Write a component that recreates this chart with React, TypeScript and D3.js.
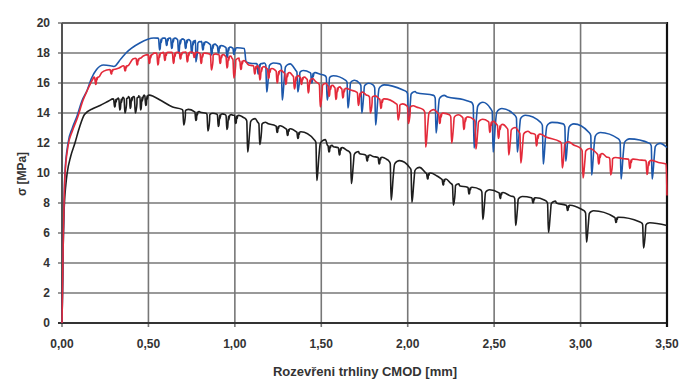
import React from "react";
import * as d3 from "d3";

// x ticks (CMOD mm) and y ticks (MPa)
const xTicks = [0, 0.5, 1.0, 1.5, 2.0, 2.5, 3.0, 3.5];
const yTicks = [0, 2, 4, 6, 8, 10, 12, 14, 16, 18, 20];

// Envelopes [x, sigma]
const blackEnvelope: [number, number][] = [
  [0, 0], [0.004, 3], [0.008, 6], [0.014, 8], [0.022, 9.2], [0.03, 10], [0.05, 11.1], [0.075, 12],
  [0.1, 13], [0.13, 13.9], [0.18, 14.3], [0.22, 14.5], [0.27, 14.8], [0.32, 15.0], [0.41, 15.1],
  [0.49, 15.2], [0.53, 15.1], [0.57, 14.85], [0.64, 14.4], [0.72, 14.2], [0.8, 14.05], [0.9, 13.95],
  [0.99, 13.85], [1.05, 13.7], [1.1, 13.5], [1.19, 13.3], [1.3, 12.95], [1.38, 12.7], [1.46, 12.3],
  [1.5, 11.9], [1.57, 11.75], [1.65, 11.5], [1.72, 11.3], [1.8, 11.1], [1.88, 10.9], [1.93, 10.6],
  [2.01, 10.4], [2.07, 10.1], [2.17, 9.8], [2.25, 9.3], [2.3, 9.15], [2.42, 8.9], [2.47, 8.9],
  [2.6, 8.45], [2.66, 8.5], [2.79, 8.2], [2.86, 8.0], [3.01, 7.55], [3.07, 7.3], [3.2, 7.05],
  [3.34, 6.75], [3.4, 6.65], [3.5, 6.5],
];
// Unloading dips [x, top, bottom]
const blackDips: [number, number, number][] = [
  [0.3, 14.95, 14.4], [0.33, 15.0, 14.2], [0.36, 15.05, 14.0], [0.39, 15.1, 14.3], [0.42, 15.1, 14.0],
  [0.45, 15.15, 14.2], [0.48, 15.2, 14.5], [0.7, 14.25, 13.2], [0.77, 14.1, 13.5], [0.84, 14.0, 12.8],
  [0.9, 13.95, 13.1], [0.95, 13.9, 12.9], [1.0, 13.85, 13.3], [1.07, 13.65, 11.4], [1.14, 13.4, 11.9],
  [1.24, 13.15, 12.7], [1.3, 12.95, 12.5], [1.36, 12.75, 12.3], [1.47, 12.25, 9.5], [1.54, 11.85, 11.4],
  [1.6, 11.7, 11.2], [1.67, 11.45, 9.3], [1.76, 11.2, 10.8], [1.83, 11.05, 10.6], [1.9, 10.85, 8.2],
  [2.02, 10.4, 8.05], [2.11, 10.0, 9.6], [2.2, 9.6, 9.2], [2.26, 9.3, 7.85], [2.35, 9.05, 8.6],
  [2.43, 8.9, 6.9], [2.53, 8.7, 8.3], [2.62, 8.45, 6.5], [2.72, 8.35, 8.0], [2.81, 8.15, 6.05],
  [2.92, 7.85, 7.5], [3.03, 7.5, 5.4], [3.2, 7.05, 6.7], [3.36, 6.7, 5.0],
];

const blueEnvelope: [number, number][] = [
  [0, 0], [0.004, 3], [0.008, 6], [0.012, 8], [0.017, 10], [0.035, 12], [0.06, 13], [0.087, 13.8],
  [0.115, 14.8], [0.145, 15.5], [0.17, 16.3], [0.2, 16.9], [0.24, 17.2], [0.28, 17.15], [0.3, 17.1],
  [0.34, 17.6], [0.37, 18.0], [0.45, 18.67], [0.53, 19.0], [0.64, 19.0], [0.72, 18.9], [0.8, 18.75],
  [0.9, 18.5], [0.99, 18.35], [1.055, 18.3], [1.065, 17.4], [1.1, 17.3], [1.2, 17.35], [1.26, 17.33],
  [1.32, 17.1], [1.38, 16.8], [1.45, 16.7], [1.49, 16.6], [1.55, 16.4], [1.65, 16.2], [1.72, 16.05],
  [1.8, 15.95], [1.86, 15.87], [1.97, 15.55], [2.05, 15.35], [2.15, 15.2], [2.23, 15.07], [2.32, 14.9],
  [2.36, 14.75], [2.42, 14.45], [2.48, 14.3], [2.53, 14.07], [2.62, 13.87], [2.68, 13.73], [2.77, 13.4],
  [2.83, 13.25], [2.9, 13.3], [2.95, 13.0], [3.05, 12.73], [3.1, 12.4], [3.22, 12.3], [3.27, 12.2],
  [3.4, 12.0], [3.45, 11.75], [3.5, 11.7],
];
const blueDips: [number, number, number][] = [
  [0.56, 19.0, 18.2], [0.6, 19.0, 18.5], [0.63, 19.0, 18.3], [0.67, 18.95, 18.0], [0.71, 18.9, 18.3],
  [0.745, 18.85, 18.0], [0.77, 18.8, 17.4], [0.81, 18.75, 18.2], [0.86, 18.6, 17.87], [0.9, 18.5, 18.0],
  [0.95, 18.4, 17.7], [0.99, 18.35, 17.9], [1.13, 17.3, 16.6], [1.18, 17.35, 15.4], [1.27, 17.3, 14.87],
  [1.36, 16.85, 15.4], [1.44, 16.7, 16.0], [1.53, 16.5, 14.87], [1.65, 16.2, 14.33], [1.73, 16.0, 14.0],
  [1.81, 15.9, 13.2], [2.0, 15.45, 13.5], [2.16, 15.2, 12.67], [2.38, 14.75, 11.67], [2.49, 14.33, 11.4],
  [2.63, 13.87, 11.4], [2.78, 13.4, 10.6], [2.91, 13.3, 10.8], [3.06, 12.73, 9.87], [3.23, 12.3, 9.6],
  [3.41, 12.0, 9.6],
];

const redEnvelope: [number, number][] = [
  [0, 0], [0.004, 3], [0.008, 6], [0.012, 8], [0.017, 9.8], [0.035, 11.8], [0.06, 12.8], [0.09, 13.7],
  [0.12, 14.8], [0.15, 15.6], [0.18, 16.3], [0.2, 16.5], [0.23, 16.7], [0.26, 16.87], [0.3, 16.9],
  [0.33, 17.0], [0.37, 17.2], [0.41, 17.6], [0.47, 17.8], [0.53, 18.0], [0.6, 18.05], [0.73, 18.07],
  [0.8, 18.0], [0.9, 17.9], [0.99, 17.67], [1.04, 17.5], [1.08, 17.2], [1.14, 17.1], [1.2, 16.95],
  [1.28, 16.73], [1.36, 16.45], [1.42, 16.3], [1.47, 16.07], [1.55, 15.8], [1.67, 15.53], [1.76, 15.2],
  [1.86, 14.87], [1.95, 14.6], [2.05, 14.4], [2.15, 14.05], [2.24, 13.9], [2.33, 13.75], [2.43, 13.5],
  [2.55, 13.1], [2.65, 12.8], [2.71, 12.67], [2.8, 12.4], [2.9, 12.1], [2.96, 11.87], [3.05, 11.5],
  [3.15, 11.07], [3.25, 10.95], [3.34, 10.87], [3.45, 10.7], [3.495, 10.6], [3.5, 8.5],
];
const redDips: [number, number, number][] = [
  [0.19, 16.4, 15.9], [0.28, 16.9, 16.6], [0.36, 17.15, 16.8], [0.43, 17.65, 17.2], [0.5, 17.9, 17.3],
  [0.55, 18.0, 17.2], [0.59, 18.05, 17.5], [0.64, 18.05, 17.3], [0.68, 18.05, 17.6], [0.72, 18.07, 17.4],
  [0.76, 18.05, 17.7], [0.8, 18.0, 17.3], [0.86, 17.95, 16.87], [0.91, 17.9, 17.3], [0.95, 17.8, 17.0],
  [0.99, 17.67, 16.33], [1.03, 17.5, 16.9], [1.11, 17.15, 16.6], [1.14, 17.1, 16.2], [1.19, 16.97, 16.3],
  [1.24, 16.85, 16.0], [1.29, 16.7, 15.9], [1.34, 16.5, 15.6], [1.38, 16.4, 15.9], [1.42, 16.3, 15.33],
  [1.49, 16.0, 14.4], [1.54, 15.85, 15.1], [1.58, 15.75, 14.9], [1.62, 15.65, 15.0], [1.71, 15.4, 14.5],
  [1.78, 15.15, 14.0], [1.84, 14.95, 14.3], [1.94, 14.62, 13.53], [2.0, 14.5, 13.3], [2.1, 14.25, 11.73],
  [2.18, 14.0, 13.3], [2.25, 13.9, 12.0], [2.32, 13.75, 12.9], [2.39, 13.6, 11.6], [2.47, 13.45, 12.7],
  [2.52, 13.25, 12.3], [2.58, 13.05, 11.2], [2.65, 12.8, 10.67], [2.74, 12.6, 11.8], [2.89, 12.1, 10.33],
  [3.01, 11.65, 9.67], [3.1, 11.3, 10.6], [3.17, 11.05, 9.87], [3.28, 10.93, 10.3], [3.38, 10.85, 9.9],
];

const W = 685, H = 388;
const L = 62, R = 667, T = 23, B = 323;

function buildPoints(env: [number, number][], dips: [number, number, number][]) {
  const win = (t: number, b: number) => Math.min(0.016 + 0.014 * (t - b), 0.055);
  const pts: [number, number][] = env.filter(
    ([x]) => !dips.some(([dx, t, b]) => x >= dx - win(t, b) * 0.2 - 0.002 && x <= dx + win(t, b) + 0.002)
  );
  dips.forEach(([dx, t, b]) => {
    const d = t - b;
    const w = win(t, b);
    pts.push(
      [dx - w * 0.2, t - d * 0.01],
      [dx - 0.001, t - d * 0.08],
      [dx + 0.004, b],
      [dx + 0.008, b + d * 0.12],
      [dx + 0.01 + w * 0.12, b + d * 0.6],
      [dx + w * 0.45, t - d * 0.1],
      [dx + w * 0.72, t - d * 0.03],
      [dx + w, t - d * 0.01]
    );
  });
  pts.sort((a, b) => a[0] - b[0]);
  return pts;
}

export default function App() {
  const x = d3.scaleLinear().domain([0, 3.5]).range([L, R]);
  const y = d3.scaleLinear().domain([0, 20]).range([B, T]);
  const line = d3
    .line<[number, number]>()
    .x((d) => x(d[0]))
    .y((d) => y(d[1]))
    .curve(d3.curveMonotoneX);
  const series = [
    { pts: buildPoints(blackEnvelope, blackDips), color: "#1e1e1e" },
    { pts: buildPoints(blueEnvelope, blueDips), color: "#1d58ab" },
    { pts: buildPoints(redEnvelope, redDips), color: "#e42a3a" },
  ];
  const font = "'Liberation Sans', Arial, sans-serif";
  return (
    <svg width={W} height={H} style={{ position: "absolute", left: 0, top: 0, background: "#fff" }}>
      <rect x={0} y={0} width={W} height={H} fill="#fff" />
      {yTicks.map((t) => (
        <line key={"gy" + t} x1={L - 4} x2={R} y1={y(t)} y2={y(t)} stroke="#777" strokeWidth={1.6} />
      ))}
      {xTicks.map((t) => (
        <line key={"gx" + t} x1={x(t)} x2={x(t)} y1={T} y2={B + 4} stroke="#777" strokeWidth={1.6} />
      ))}
      <line x1={L} x2={L} y1={T} y2={B} stroke="#444" strokeWidth={1.6} />
      <line x1={L - 4} x2={R} y1={B} y2={B} stroke="#333" strokeWidth={2} />
      <line x1={R} x2={R} y1={T - 1} y2={B + 4} stroke="#111" strokeWidth={2.2} />
      <line x1={L} x2={R} y1={T} y2={T} stroke="#555" strokeWidth={1.6} />
      {series.map((s, i) => (
        <path key={i} d={line(s.pts) || ""} fill="none" stroke={s.color} strokeWidth={1.6} strokeLinejoin="round" />
      ))}
      {yTicks.map((t) => (
        <text key={"ty" + t} x={50} y={y(t)} dy="0.36em" textAnchor="end" fontFamily={font} fontWeight="bold" fontSize={12} fill="#333">
          {t}
        </text>
      ))}
      {xTicks.map((t) => (
        <text key={"tx" + t} x={x(t)} y={344} dy="0.36em" textAnchor="middle" fontFamily={font} fontWeight="bold" fontSize={12} fill="#333">
          {d3.format(".2f")(t).replace(".", ",")}
        </text>
      ))}
      <text x={365} y={371} dy="0.36em" textAnchor="middle" fontFamily={font} fontWeight="bold" fontSize={13} fill="#333">
        Rozevřeni trhliny CMOD [mm]
      </text>
      <text transform="translate(22,174) rotate(-90)" dy="0.36em" textAnchor="middle" fontFamily={font} fontWeight="bold" fontSize={12} fill="#333">
        σ [MPa]
      </text>
    </svg>
  );
}
